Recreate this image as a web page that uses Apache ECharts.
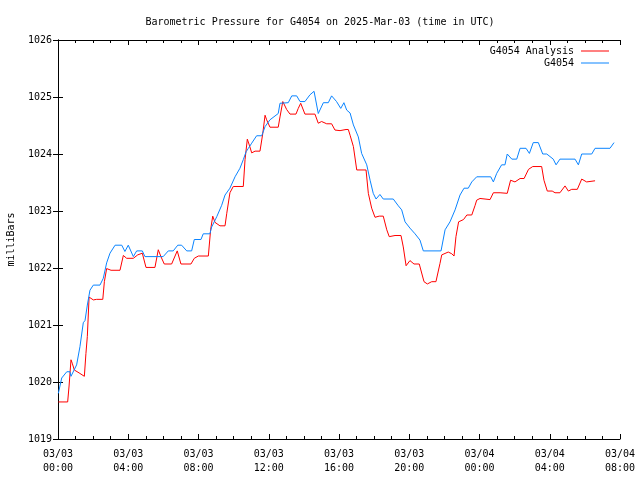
<!DOCTYPE html>
<html>
<head>
<meta charset="utf-8">
<script src="https://cdn.jsdelivr.net/npm/echarts@6/dist/echarts.min.js"></script>
<style>html,body{margin:0;padding:0;background:#fff}#c{width:640px;height:480px}</style>
</head>
<body>
<div id="c"></div>
<script>
// Hours since 2025-03-03 00:00 UTC
var titleText = 'Barometric Pressure for G4054 on 2025-Mar-03 (time in UTC)';
var yAxisName = 'milliBars';
var seriesNames = ['G4054 Analysis', 'G4054'];
var xTickLabels = ['03/03\n00:00','03/03\n04:00','03/03\n08:00','03/03\n12:00','03/03\n16:00','03/03\n20:00','03/04\n00:00','03/04\n04:00','03/04\n08:00'];

var analysisHours = [0.02,0.55,0.63,0.74,0.81,0.93,1.20,1.50,1.59,1.67,1.77,2.01,2.20,2.55,2.64,2.77,3.02,3.53,3.72,3.91,4.29,4.54,4.80,5.01,5.52,5.71,5.86,6.05,6.47,6.79,7.00,7.57,7.76,7.99,8.56,8.69,8.81,8.94,9.22,9.51,9.61,9.79,9.98,10.55,10.65,10.78,10.89,11.03,11.22,11.50,11.66,11.79,11.88,12.07,12.54,12.64,12.80,13.02,13.21,13.55,13.68,13.82,14.06,14.63,14.82,15.01,15.30,15.58,15.77,16.06,16.40,16.53,16.63,16.82,17.01,17.54,17.67,17.86,18.05,18.29,18.52,18.72,18.86,19.19,19.53,19.66,19.82,20.04,20.27,20.57,20.84,21.03,21.28,21.52,21.75,21.85,22.22,22.42,22.55,22.66,22.81,23.09,23.28,23.56,23.75,23.84,24.03,24.60,24.79,25.17,25.58,25.77,26.02,26.31,26.54,26.79,27.03,27.54,27.67,27.86,28.14,28.30,28.58,28.87,29.06,29.25,29.57,29.82,30.10,30.58];
var analysisValues = [1019.65,1019.65,1019.93,1020.39,1020.33,1020.21,1020.16,1020.10,1020.50,1020.80,1021.49,1021.44,1021.45,1021.45,1021.76,1021.99,1021.96,1021.96,1022.22,1022.17,1022.17,1022.23,1022.26,1022.01,1022.01,1022.32,1022.20,1022.07,1022.07,1022.30,1022.07,1022.07,1022.17,1022.21,1022.21,1022.67,1022.91,1022.80,1022.74,1022.74,1022.96,1023.32,1023.43,1023.43,1023.90,1024.26,1024.16,1024.02,1024.05,1024.05,1024.36,1024.68,1024.60,1024.47,1024.47,1024.65,1024.92,1024.78,1024.70,1024.70,1024.80,1024.89,1024.70,1024.70,1024.54,1024.57,1024.53,1024.53,1024.42,1024.41,1024.43,1024.43,1024.33,1024.13,1023.72,1023.72,1023.31,1023.05,1022.89,1022.91,1022.91,1022.67,1022.55,1022.57,1022.57,1022.37,1022.04,1022.13,1022.07,1022.07,1021.76,1021.72,1021.76,1021.76,1022.08,1022.23,1022.28,1022.25,1022.21,1022.55,1022.81,1022.85,1022.93,1022.93,1023.10,1023.19,1023.22,1023.20,1023.32,1023.32,1023.31,1023.54,1023.51,1023.57,1023.57,1023.73,1023.78,1023.78,1023.54,1023.35,1023.35,1023.32,1023.32,1023.44,1023.35,1023.38,1023.38,1023.56,1023.51,1023.53];

var obsHours = [0.02,0.21,0.50,0.68,0.74,1.06,1.25,1.44,1.54,1.67,1.82,2.01,2.39,2.58,2.77,2.96,3.25,3.63,3.81,4.00,4.29,4.48,4.80,4.95,5.99,6.28,6.56,6.82,7.04,7.33,7.61,7.76,8.14,8.27,8.65,8.75,9.04,9.32,9.51,9.79,10.08,10.36,10.55,10.71,10.84,11.03,11.31,11.60,11.79,12.07,12.54,12.64,12.74,13.11,13.31,13.59,13.78,14.06,14.35,14.58,14.69,14.82,15.11,15.39,15.58,15.86,16.10,16.28,16.44,16.63,16.82,17.10,17.29,17.58,17.77,17.95,18.11,18.33,18.52,19.09,19.38,19.57,19.76,20.04,20.33,20.61,20.80,21.81,22.04,22.32,22.61,22.89,23.12,23.36,23.56,23.84,24.64,24.79,24.98,25.26,25.45,25.58,25.84,26.12,26.31,26.65,26.84,27.06,27.35,27.60,27.83,28.20,28.36,28.58,29.44,29.63,29.82,30.39,30.58,31.43,31.66];
var obsValues = [1019.80,1020.07,1020.18,1020.18,1020.10,1020.30,1020.62,1021.04,1021.08,1021.35,1021.61,1021.70,1021.70,1021.82,1022.09,1022.26,1022.40,1022.40,1022.29,1022.40,1022.20,1022.30,1022.30,1022.20,1022.20,1022.30,1022.30,1022.40,1022.40,1022.30,1022.30,1022.50,1022.50,1022.60,1022.60,1022.72,1022.90,1023.10,1023.28,1023.40,1023.60,1023.75,1023.90,1024.04,1024.10,1024.19,1024.32,1024.32,1024.48,1024.60,1024.71,1024.89,1024.90,1024.90,1025.02,1025.02,1024.92,1024.92,1025.04,1025.10,1025.08,1024.71,1024.90,1024.90,1025.02,1024.92,1024.80,1024.90,1024.77,1024.72,1024.51,1024.30,1024.01,1023.81,1023.54,1023.31,1023.21,1023.29,1023.21,1023.21,1023.09,1023.02,1022.81,1022.70,1022.60,1022.49,1022.30,1022.30,1022.67,1022.81,1023.02,1023.28,1023.40,1023.40,1023.51,1023.60,1023.60,1023.51,1023.66,1023.81,1023.81,1024.00,1023.91,1023.91,1024.10,1024.10,1024.01,1024.20,1024.20,1024.00,1024.00,1023.91,1023.81,1023.91,1023.91,1023.81,1024.00,1024.00,1024.10,1024.10,1024.20];

var FONT = 'DejaVu Sans Mono';
function zip(a, b) { return a.map(function (v, i) { return [v, b[i]]; }); }

var chart = echarts.init(document.getElementById('c'), null, {renderer: 'canvas'});
var axisLine = {show: true, lineStyle: {color: '#000', width: 1}};
var xCommon = {
  type: 'value', min: 0, max: 32, interval: 4,
  axisLine: axisLine,
  axisTick: {show: true, inside: true, length: 5, lineStyle: {color: '#000'}},
  minorTick: {show: true, splitNumber: 4, length: 3, lineStyle: {color: '#000'}},
  splitLine: {show: false}
};
var yCommon = {
  type: 'value', min: 1019, max: 1026, interval: 1,
  axisLine: axisLine,
  axisTick: {show: true, inside: true, length: 5, lineStyle: {color: '#000'}},
  splitLine: {show: false}
};

chart.setOption({
  backgroundColor: '#fff',
  animation: false,
  title: {
    text: titleText, left: 'center', top: 12,
    textStyle: {fontFamily: FONT, fontSize: 10, fontWeight: 'normal', color: '#000'}
  },
  legend: [
    {data: [seriesNames[0]], right: 26, top: 41, orient: 'vertical', align: 'right',
     icon: 'rect', itemWidth: 28, itemHeight: 1, itemGap: 2,
     textStyle: {fontFamily: FONT, fontSize: 10, color: '#000', padding: [0, 2, 0, 0]}},
    {data: [seriesNames[1]], right: 26, top: 53, orient: 'vertical', align: 'right',
     icon: 'rect', itemWidth: 28, itemHeight: 1, itemGap: 2,
     textStyle: {fontFamily: FONT, fontSize: 10, color: '#000', padding: [0, 2, 0, 0]}}
  ],
  grid: {left: 58, right: 20, top: 40, bottom: 41, containLabel: false, outerBoundsMode: 'none'},
  xAxis: [
    Object.assign({}, xCommon, {
      position: 'bottom',
      axisLabel: {
        show: true, margin: 8, lineHeight: 14,
        fontFamily: FONT, fontSize: 10, color: '#000',
        formatter: function (v) { var i = Math.round(v / 4); return xTickLabels[i] || ''; }
      }
    }),
    Object.assign({}, xCommon, {position: 'top', axisLabel: {show: false}})
  ],
  yAxis: [
    Object.assign({}, yCommon, {
      position: 'left',
      name: yAxisName, nameLocation: 'middle', nameGap: 42, nameRotate: 90,
      nameTextStyle: {fontFamily: FONT, fontSize: 10, color: '#000'},
      axisLabel: {show: true, margin: 6, fontFamily: FONT, fontSize: 10, color: '#000',
        formatter: function (v) { return String(v); }}
    }),
    Object.assign({}, yCommon, {position: 'right', axisLabel: {show: false}})
  ],
  series: [
    {name: seriesNames[0], type: 'line', xAxisIndex: 0, yAxisIndex: 0,
     data: zip(analysisHours, analysisValues), showSymbol: false, symbol: 'none',
     color: '#ff0000', lineStyle: {color: '#ff0000', width: 1}},
    {name: seriesNames[1], type: 'line', xAxisIndex: 0, yAxisIndex: 0,
     data: zip(obsHours, obsValues), showSymbol: false, symbol: 'none',
     color: '#0a84ff', lineStyle: {color: '#0a84ff', width: 1}}
  ]
});
</script>
</body>
</html>
